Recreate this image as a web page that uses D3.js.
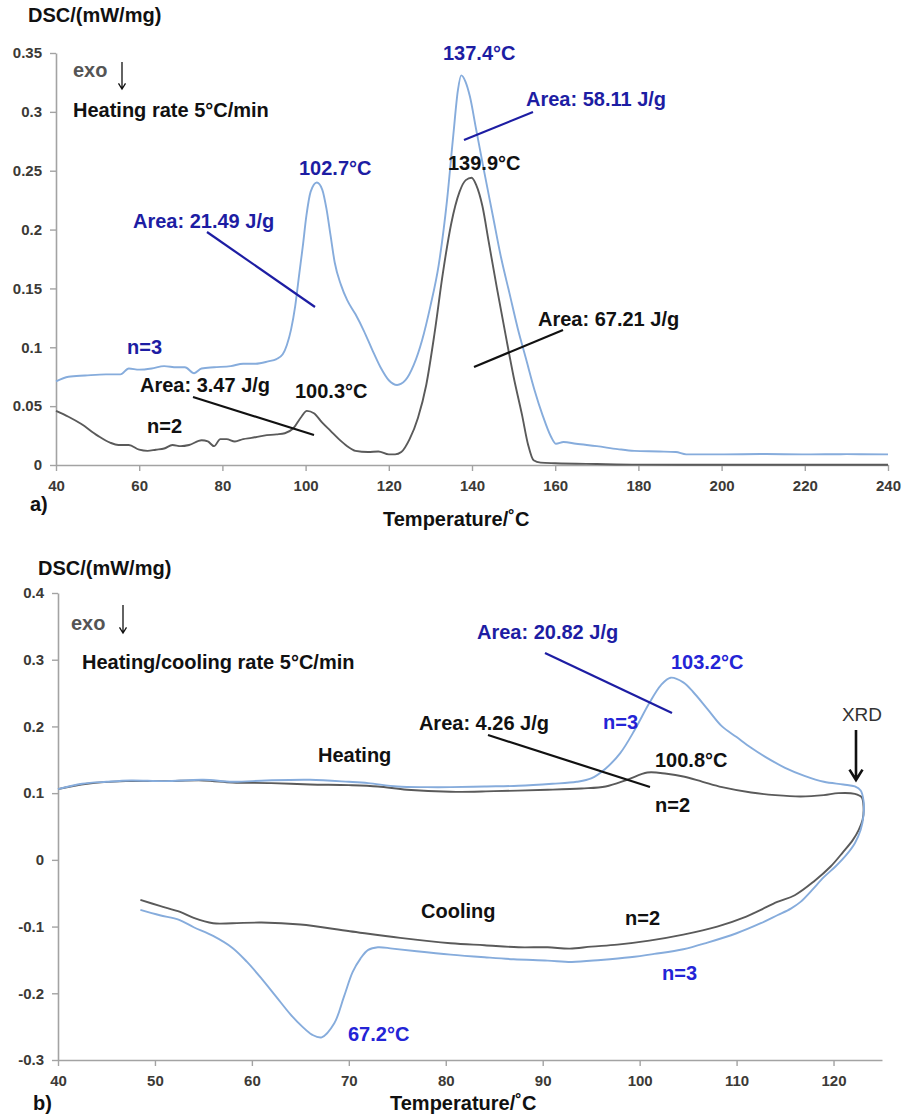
<!DOCTYPE html>
<html>
<head>
<meta charset="utf-8">
<script src="https://cdn.jsdelivr.net/npm/d3@7"></script>
<style>
  html, body { margin: 0; padding: 0; background: #fff; }
  svg { display: block; }
</style>
</head>
<body>
<svg id="chart" width="902" height="1118"></svg>
<script>
// ---- Panel a: heating scans, [temperature °C, DSC mW/mg] ----
const heatN3 = [
  [40,0.071],[43,0.075],[47,0.076],[52,0.077],[55.5,0.077],[57.5,0.082],[60,0.081],[63,0.082],
  [66,0.084],[69,0.083],[71,0.083],[73.2,0.078],[75,0.082],[78,0.083],[82,0.084],[85,0.086],
  [88,0.086],[91,0.088],[93,0.090],[94.5,0.094],[95.5,0.102],[96.5,0.115],[97.5,0.135],
  [98.5,0.163],[99.3,0.185],[100.2,0.212],[101.2,0.232],[102.7,0.240],[104,0.234],[105,0.218],
  [106,0.195],[107,0.172],[108.5,0.153],[110,0.140],[112,0.128],[114,0.114],[116,0.098],
  [118,0.083],[120,0.072],[122,0.068],[124,0.072],[126,0.085],[128,0.106],[130,0.135],
  [132,0.170],[134,0.225],[135.5,0.280],[136.6,0.318],[137.4,0.331],[138.4,0.326],
  [139.5,0.313],[141,0.285],[143,0.248],[145,0.212],[147,0.176],[149,0.146],[151,0.116],
  [153,0.090],[155,0.064],[157,0.042],[159,0.024],[160.2,0.018],[162,0.0195],[165,0.018],
  [170,0.016],[175,0.0135],[179,0.012],[185,0.0115],[189,0.011],[191.5,0.009],[200,0.009],
  [210,0.0093],[220,0.009],[230,0.0092],[240,0.009]
];
const heatN2 = [
  [40,0.046],[43,0.041],[46,0.035],[50,0.025],[53,0.019],[55,0.017],[57.5,0.017],[60,0.013],
  [62,0.012],[64,0.013],[66,0.014],[68,0.017],[70,0.016],[72,0.017],[75,0.021],[76.5,0.020],
  [78,0.016],[79.5,0.022],[81,0.022],[83,0.020],[85,0.022],[87,0.023],[90,0.025],[93,0.026],
  [95,0.027],[97,0.031],[99,0.041],[100.3,0.046],[102,0.044],[104,0.036],[106,0.029],
  [108,0.022],[110,0.016],[112,0.012],[115,0.011],[117.5,0.0115],[120,0.009],[121.5,0.009],
  [123,0.011],[125,0.022],[127,0.040],[129,0.068],[131,0.112],[133,0.163],[135,0.205],
  [137,0.232],[138.5,0.242],[139.9,0.244],[141,0.238],[142.5,0.220],[144,0.190],[146,0.150],
  [148,0.112],[150,0.075],[152,0.043],[153.5,0.017],[154.8,0.004],[156.5,0.002],[160,0.0015],
  [170,0.0008],[180,0.0003],[200,0.0002],[240,0.0002]
];

// ---- Panel b: heating to 123 °C, then cooling back ----
const loopN3 = [
  [40,0.106],[42.5,0.114],[45,0.117],[47.5,0.119],[51,0.118],[55,0.120],[58,0.117],[61.5,0.119],
  [66,0.120],[70,0.117],[72,0.115],[75,0.110],[78,0.109],[80.5,0.109],[84,0.110],[87.5,0.111],
  [91,0.114],[93.5,0.117],[95,0.122],[96.5,0.137],[98,0.160],[99.5,0.195],[101,0.235],
  [102.2,0.262],[103.2,0.273],[104.5,0.266],[105.5,0.252],[107,0.226],[108.5,0.200],
  [110,0.184],[111.5,0.168],[113,0.154],[115,0.138],[117,0.126],[119,0.117],[121,0.113],
  [122.2,0.110],[122.8,0.104],
  [123.1,0.088],[123.1,0.068],[122.8,0.045],[122.2,0.025],[121.3,0.007],[120.2,-0.010],
  [119,-0.026],[117.8,-0.045],[116.6,-0.063],[115.6,-0.073],[114.2,-0.083],[112.5,-0.095],
  [110,-0.110],[107,-0.124],[104.5,-0.134],[101.5,-0.141],[99,-0.146],[96,-0.150],[93,-0.153],
  [90.5,-0.151],[87,-0.149],[84,-0.146],[80.5,-0.142],[77,-0.137],[74.5,-0.133],[73,-0.131],
  [72,-0.135],[71.2,-0.148],[70.4,-0.168],[69.5,-0.205],[68.5,-0.245],[67.2,-0.266],
  [66.2,-0.262],[65.2,-0.250],[64,-0.232],[62.5,-0.205],[61,-0.178],[59.5,-0.153],[58,-0.132],
  [56,-0.114],[54,-0.101],[52.5,-0.090],[50.5,-0.083],[48.5,-0.075]
];
const loopN2 = [
  [40,0.106],[43,0.114],[47,0.118],[51,0.118],[55,0.119],[58,0.116],[62,0.115],[66,0.113],
  [70,0.112],[73,0.110],[76,0.105],[80.5,0.102],[85,0.103],[90.5,0.105],[94,0.107],[96.5,0.110],
  [98.7,0.120],[100.8,0.131],[102.8,0.129],[104.5,0.125],[106.5,0.117],[108.5,0.109],
  [111.5,0.101],[114,0.097],[116.6,0.095],[119,0.097],[120.5,0.100],[122.2,0.099],[122.9,0.094],
  [123.1,0.078],[123.0,0.060],[122.6,0.045],[122,0.030],[121,0.012],[119.7,-0.010],
  [118,-0.032],[116,-0.053],[114.2,-0.063],[112.5,-0.075],[111,-0.085],[108,-0.100],
  [104.5,-0.112],[101,-0.121],[97.7,-0.127],[95,-0.130],[92.8,-0.133],[90.5,-0.131],
  [87.5,-0.131],[84,-0.128],[80.5,-0.125],[75.3,-0.117],[70.1,-0.107],[65,-0.097],[61,-0.094],
  [58,-0.095],[56,-0.095],[54,-0.087],[52.6,-0.078],[50.5,-0.069],[48.5,-0.060]
];

// ---- Axis ticks ----
const aTempTicks = [40,60,80,100,120,140,160,180,200,220,240];
const aDscTicks  = [0,0.05,0.1,0.15,0.2,0.25,0.3,0.35];
const bTempTicks = [40,50,60,70,80,90,100,110,120];
const bDscTicks  = [-0.3,-0.2,-0.1,0,0.1,0.2,0.3,0.4];

// ---- Styling ----
const FONT = "'Liberation Sans', Arial, Helvetica, sans-serif";
const LIGHT_BLUE = "#86acdc";
const DARK_GREY  = "#5a5a5a";
const NAVY       = "#1d1da3";
const BRIGHT     = "#2424d6";
const AXIS_GREY  = "#a3a3a3";

const svg = d3.select("#chart");
svg.append("rect").attr("width", 902).attr("height", 1118).attr("fill", "#fff");

function styleAxis(g) {
  g.select(".domain").attr("stroke", AXIS_GREY).attr("stroke-width", 1.6);
  g.selectAll(".tick line").attr("stroke", AXIS_GREY).attr("stroke-width", 1.4);
  g.selectAll(".tick text")
    .attr("fill", "#3c3a36")
    .style("font-family", FONT)
    .style("font-size", "15px")
    .style("font-weight", "bold");
}

function label(x, y, text, color, opts = {}) {
  return svg.append("text")
    .attr("x", x).attr("y", y)
    .attr("fill", color)
    .attr("text-anchor", opts.anchor || "start")
    .style("font-family", FONT)
    .style("font-size", (opts.size || 20) + "px")
    .style("font-weight", opts.weight || "bold")
    .text(text);
}

function leader(x1, y1, x2, y2, color) {
  svg.append("line")
    .attr("x1", x1).attr("y1", y1).attr("x2", x2).attr("y2", y2)
    .attr("stroke", color).attr("stroke-width", 2.2);
}

function downArrow(x, y1, y2, width, head) {
  svg.append("path")
    .attr("d", `M${x},${y1}V${y2}M${x - head},${y2 - head * 1.6}L${x},${y2}L${x + head},${y2 - head * 1.6}`)
    .attr("fill", "none").attr("stroke", "#111").attr("stroke-width", width)
    .attr("stroke-linejoin", "miter");
}

// ================= Panel a =================
const xa = d3.scaleLinear().domain([40, 240]).range([56, 888]);
const ya = d3.scaleLinear().domain([0, 0.35]).range([465, 53]);

svg.append("g").attr("transform", "translate(0,465)")
  .call(d3.axisBottom(xa).tickValues(aTempTicks).tickSize(6).tickSizeOuter(0).tickPadding(9)
    .tickFormat(d => String(d)))
  .call(styleAxis);
svg.append("g").attr("transform", "translate(56,0)")
  .call(d3.axisLeft(ya).tickValues(aDscTicks).tickSize(6).tickSizeOuter(0).tickPadding(8)
    .tickFormat(d => String(d)))
  .call(styleAxis);

const lineA = d3.line().x(d => xa(d[0])).y(d => ya(d[1])).curve(d3.curveMonotoneX);
svg.append("path").datum(heatN2).attr("d", lineA)
  .attr("fill", "none").attr("stroke", DARK_GREY).attr("stroke-width", 1.9);
svg.append("path").datum(heatN3).attr("d", lineA)
  .attr("fill", "none").attr("stroke", LIGHT_BLUE).attr("stroke-width", 1.9);

label(28, 22, "DSC/(mW/mg)", "#111");
label(73, 77, "exo", "#555");
downArrow(122, 62, 89, 1.3, 3.5);
label(73, 117, "Heating rate 5°C/min", "#111");

label(443, 60, "137.4°C", NAVY);
label(526, 106, "Area: 58.11 J/g", NAVY);
leader(533, 112, 464, 140, NAVY);
label(299, 175, "102.7°C", NAVY);
label(133, 228, "Area: 21.49 J/g", NAVY);
leader(207, 232, 315, 307, NAVY);
label(448, 170, "139.9°C", "#111");
label(538, 326, "Area: 67.21 J/g", "#111");
leader(563, 330, 474, 367, "#111");
label(127, 354, "n=3", NAVY);
label(140, 392, "Area: 3.47 J/g", "#111");
leader(193, 397, 314, 435, "#111");
label(295, 398, "100.3°C", "#111");
label(147, 433, "n=2", "#111");

label(30, 511, "a)", "#111");
label(383, 526, "Temperature/˚C", "#111");

// ================= Panel b =================
const xb = d3.scaleLinear().domain([40, 125]).range([58, 882]);
const yb = d3.scaleLinear().domain([-0.3, 0.4]).range([1060, 593]);

svg.append("g").attr("transform", "translate(0,1060)")
  .call(d3.axisBottom(xb).tickValues(bTempTicks).tickSize(6).tickSizeOuter(0).tickPadding(9)
    .tickFormat(d => String(d)))
  .call(styleAxis);
svg.append("g").attr("transform", "translate(58,0)")
  .call(d3.axisLeft(yb).tickValues(bDscTicks).tickSize(6).tickSizeOuter(0).tickPadding(8)
    .tickFormat(d => String(d)))
  .call(styleAxis);

const lineB = d3.line().x(d => xb(d[0])).y(d => yb(d[1])).curve(d3.curveCatmullRom.alpha(0.5));
svg.append("path").datum(loopN2).attr("d", lineB)
  .attr("fill", "none").attr("stroke", DARK_GREY).attr("stroke-width", 1.9);
svg.append("path").datum(loopN3).attr("d", lineB)
  .attr("fill", "none").attr("stroke", LIGHT_BLUE).attr("stroke-width", 1.9);

label(38, 575, "DSC/(mW/mg)", "#111");
label(71, 630, "exo", "#555");
downArrow(123, 605, 633, 1.3, 3.5);
label(82, 669, "Heating/cooling rate 5°C/min", "#111");
label(318, 762, "Heating", "#111");

label(477, 639, "Area: 20.82 J/g", NAVY);
leader(545, 653, 672, 713, NAVY);
label(671, 669, "103.2°C", BRIGHT);
label(603, 729, "n=3", BRIGHT);
label(549, 730, "Area: 4.26 J/g", "#111", { anchor: "end" });
leader(488, 735, 650, 787, "#111");
label(655, 767, "100.8°C", "#111");
label(655, 812, "n=2", "#111");

label(862, 721, "XRD", "#333", { anchor: "middle", weight: "normal", size: 19 });
downArrow(856, 730, 780, 2.6, 6.5);

label(421, 918, "Cooling", "#111");
label(625, 925, "n=2", "#111");
label(662, 980, "n=3", BRIGHT);
label(348, 1041, "67.2°C", BRIGHT);

label(33, 1110, "b)", "#111");
label(390, 1110, "Temperature/˚C", "#111");
</script>
</body>
</html>
